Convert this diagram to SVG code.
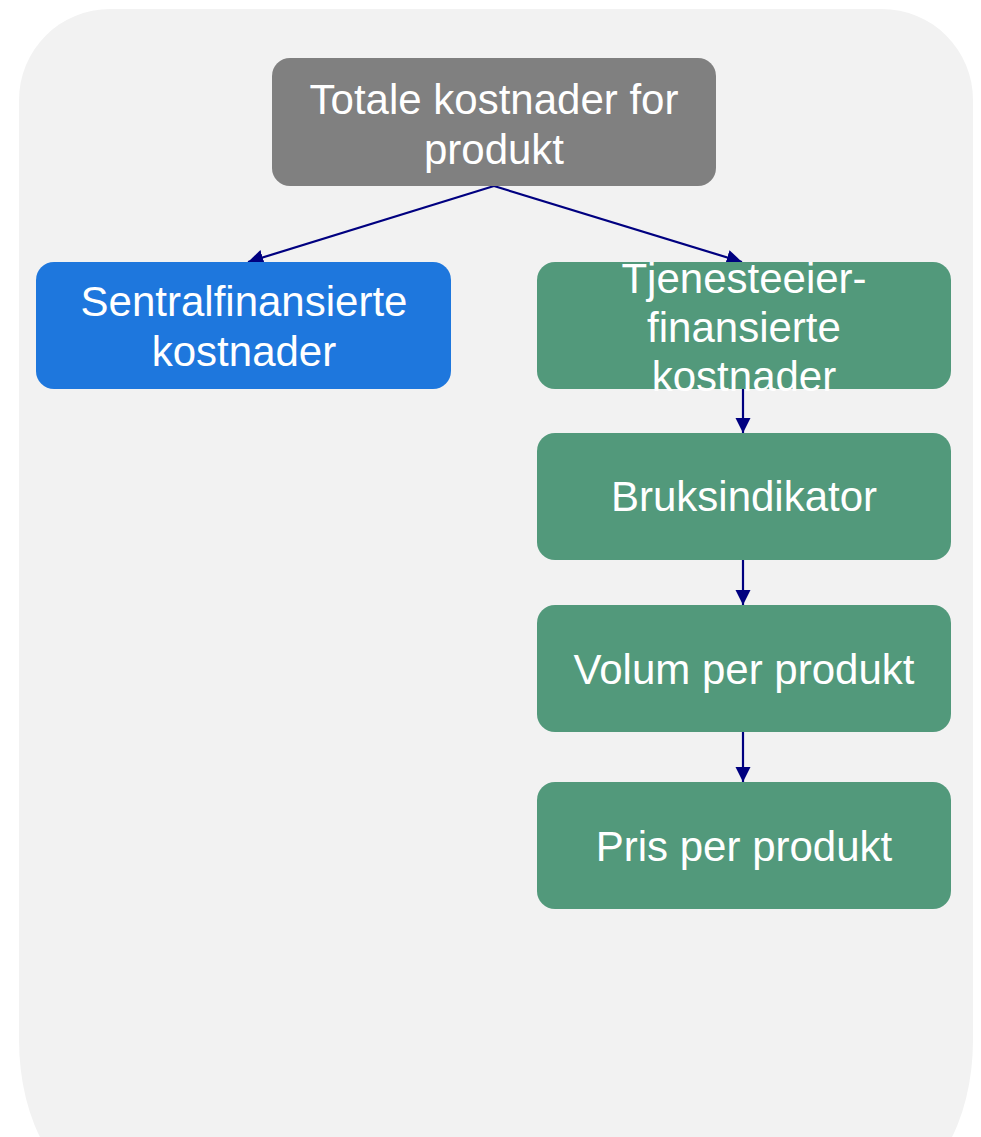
<svg xmlns="http://www.w3.org/2000/svg" width="981" height="1137" viewBox="0 0 981 1137">
<defs>
<marker id="ah" viewBox="0 0 10 10" refX="10" refY="5" markerWidth="7" markerHeight="7" markerUnits="strokeWidth" orient="auto">
<path d="M0,0 L10,5 L0,10 z" fill="#000080"/>
</marker>
<style>
.t{font-family:"Liberation Sans",Arial,sans-serif;font-size:42px;fill:#ffffff;text-anchor:middle}
.g{fill:#52997B}
.c{stroke:#000080;stroke-width:2.2;fill:none;marker-end:url(#ah)}
</style>
</defs>
<path d="M110,9 H882 A91,91 0 0 1 973,100 V1040 A91,152 0 0 1 882,1192 H110 A91,152 0 0 1 19,1040 V100 A91,91 0 0 1 110,9 Z" fill="#F2F2F2"/>
<g id="connectors">
<line class="c" x1="494" y1="186" x2="248" y2="262"/>
<line class="c" x1="494" y1="186" x2="742" y2="262"/>
<line class="c" x1="743" y1="389" x2="743" y2="433"/>
<line class="c" x1="743" y1="560" x2="743" y2="605"/>
<line class="c" x1="743" y1="732" x2="743" y2="782"/>
</g>
<g id="total">
<rect x="272" y="58" width="444" height="128" rx="18" fill="#808080"/>
<text class="t" x="494" y="114">Totale kostnader for</text>
<text class="t" x="494" y="164">produkt</text>
</g>
<g id="sentral">
<rect x="36" y="262" width="415" height="127" rx="18" fill="#1E77DD"/>
<text class="t" x="244" y="316">Sentralfinansierte</text>
<text class="t" x="244" y="366">kostnader</text>
</g>
<g id="tjenesteeier">
<rect class="g" x="537" y="262" width="414" height="127" rx="18"/>
<text class="t" x="744" y="293">Tjenesteeier-</text>
<text class="t" x="744" y="342">finansierte</text>
<text class="t" x="744" y="391">kostnader</text>
</g>
<g id="bruksindikator">
<rect class="g" x="537" y="433" width="414" height="127" rx="18"/>
<text class="t" x="744" y="511">Bruksindikator</text>
</g>
<g id="volum">
<rect class="g" x="537" y="605" width="414" height="127" rx="18"/>
<text class="t" x="744" y="684">Volum per produkt</text>
</g>
<g id="pris">
<rect class="g" x="537" y="782" width="414" height="127" rx="18"/>
<text class="t" x="744" y="861">Pris per produkt</text>
</g>
</svg>
